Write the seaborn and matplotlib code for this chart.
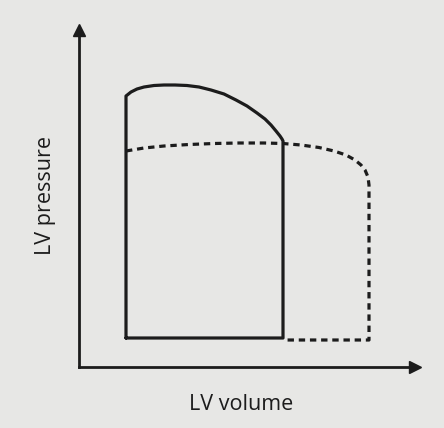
import matplotlib
matplotlib.use("Agg")
import matplotlib.pyplot as plt
import seaborn as sns
import pandas as pd

# solid loop (volume, pressure) in arbitrary units
solid_vol = [47, 47, 52, 58, 65, 75, 85, 96, 108, 120, 132, 145, 157, 168, 178,
             186, 192, 197, 201, 203, 204, 204, 47]
solid_prs = [29, 271, 275, 278, 280, 281.5, 282, 282, 281.5, 280, 277, 273, 267,
             261, 254, 248, 242, 236, 231, 228, 226, 29, 29]

# dashed loop (larger volume, lower pressure)
dash_vol = [47, 65, 85, 110, 135, 160, 185, 204, 222, 240, 255, 267, 276, 282,
            286, 289, 290, 290, 204]
dash_prs = [216, 219, 221, 222.5, 223.5, 224, 224, 223.5, 222, 219.5, 216, 212,
            207, 202, 197, 190, 182, 27, 27]

x_label = "LV volume"
y_label = "LV pressure"

bg = "#e7e7e5"
ink = "#1c1c1c"

sns.set_theme(style="white")
plt.rcParams["font.family"] = ["Open Sans", "DejaVu Sans"]

fig = plt.figure(figsize=(4.44, 4.28), dpi=100, facecolor=bg)
ax = fig.add_axes([79 / 444, (428 - 367) / 428, 336 / 444, 337 / 428])
ax.set_facecolor(bg)

solid = pd.DataFrame({"vol": solid_vol, "prs": solid_prs})
dashed = pd.DataFrame({"vol": dash_vol, "prs": dash_prs})

sns.lineplot(data=solid, x="vol", y="prs", sort=False, ax=ax,
             color=ink, lw=2.3, estimator=None)
sns.lineplot(data=dashed, x="vol", y="prs", sort=False, ax=ax,
             color=ink, lw=2.3, estimator=None, linestyle=(0, (2.0, 1.5)))

ax.set_xlim(0, 336)
ax.set_ylim(0, 337)
ax.set_xticks([])
ax.set_yticks([])
ax.set_xlabel("")
ax.set_ylabel("")
for s in ["top", "right"]:
    ax.spines[s].set_visible(False)
for s in ["left", "bottom"]:
    ax.spines[s].set_color(ink)
    ax.spines[s].set_linewidth(2.0)

# arrow heads on the axes
ax.plot(1, 0, ">", color=ink, ms=8, transform=ax.transAxes, clip_on=False)
ax.plot(0, 1, "^", color=ink, ms=8, transform=ax.transAxes, clip_on=False)

fig.text(241 / 444, 1 - 404 / 428, x_label, ha="center", va="center",
         fontsize=15.5, color=ink)
fig.text(46 / 444, 1 - 196 / 428, y_label, ha="center", va="center",
         rotation=90, fontsize=15.5, color=ink)

fig.savefig("out.png", dpi=100, facecolor=bg)
